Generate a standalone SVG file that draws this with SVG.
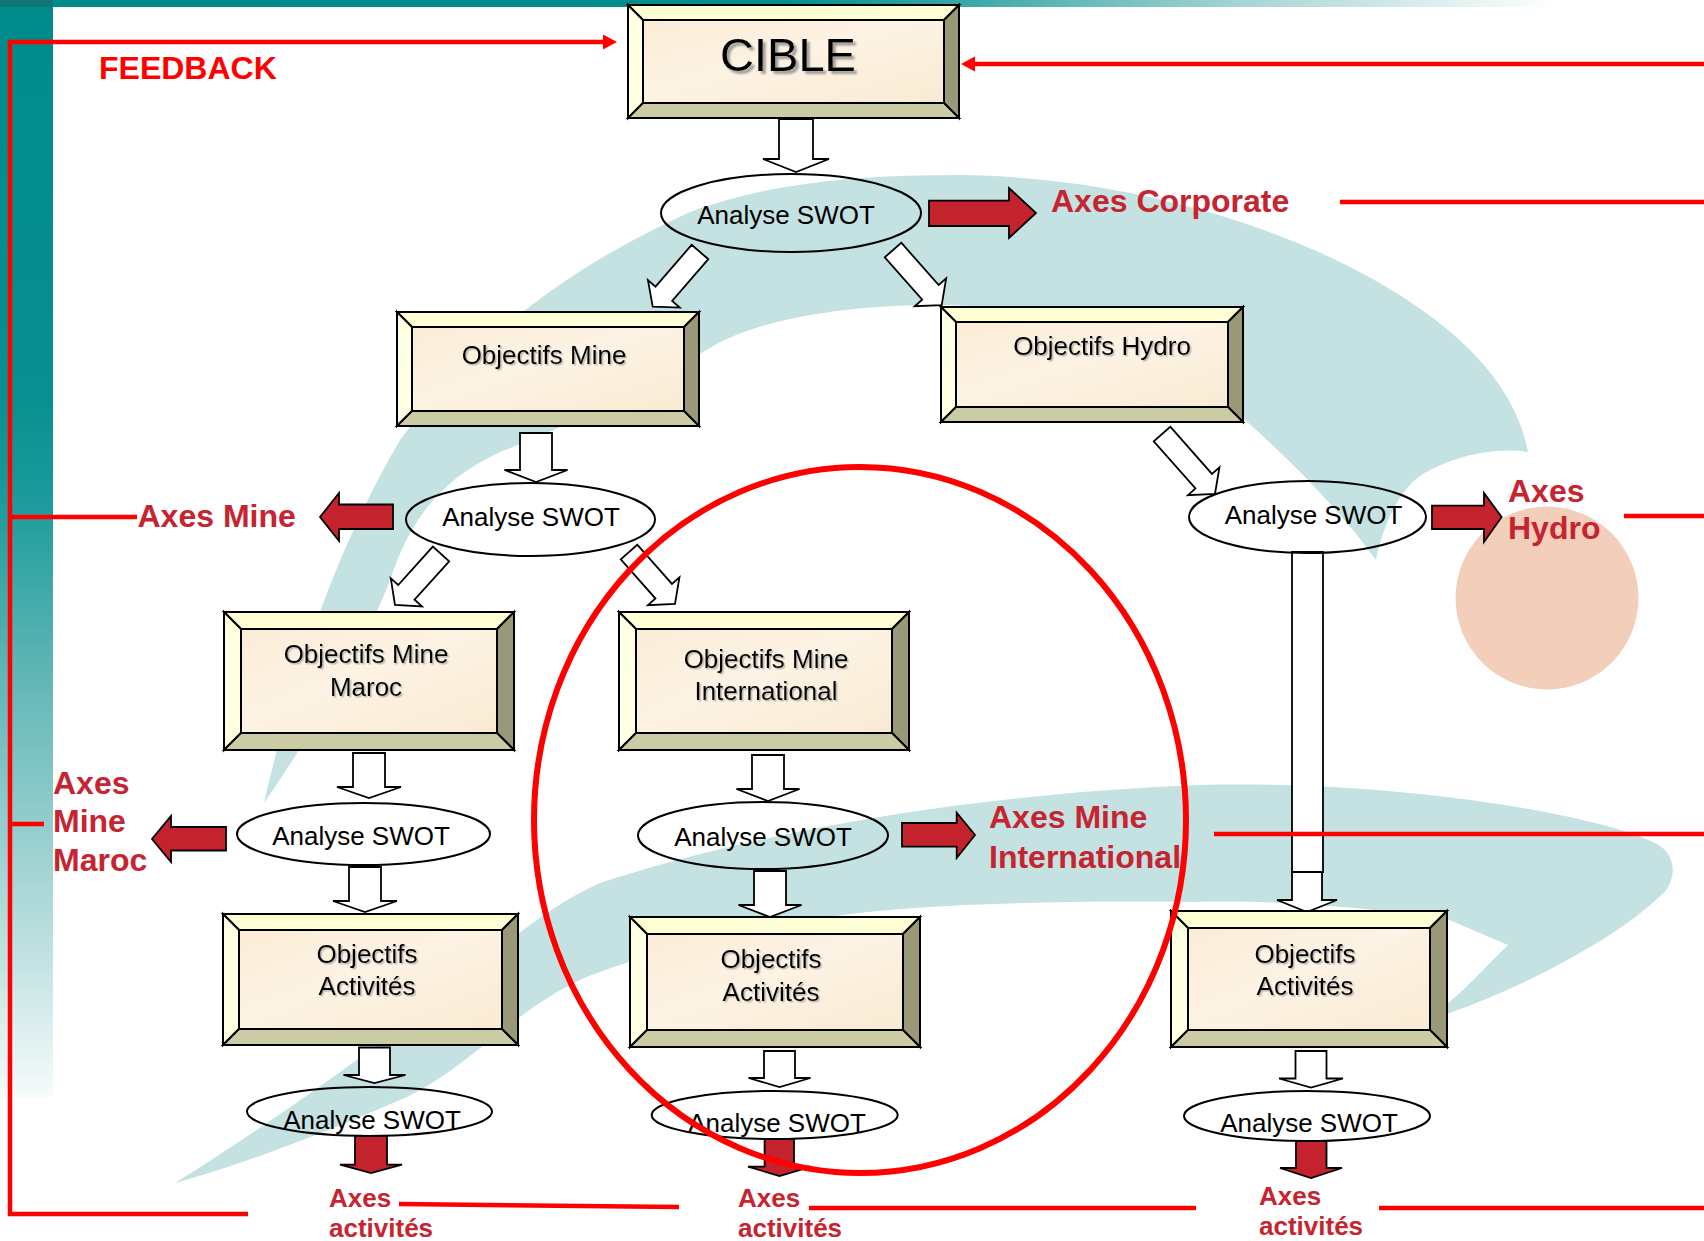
<svg xmlns="http://www.w3.org/2000/svg" width="1704" height="1241" viewBox="0 0 1704 1241">
<defs>
<linearGradient id="gTop" x1="0" y1="0" x2="1556" y2="0" gradientUnits="userSpaceOnUse">
<stop offset="0" stop-color="#008b8b"/><stop offset="0.5" stop-color="#018e8e"/><stop offset="0.62" stop-color="#3aa7a7"/><stop offset="0.8" stop-color="#a6d5d5"/><stop offset="1" stop-color="#ffffff"/>
</linearGradient>
<linearGradient id="gLeft" x1="0" y1="0" x2="0" y2="1097" gradientUnits="userSpaceOnUse">
<stop offset="0" stop-color="#008b8b"/><stop offset="0.36" stop-color="#088f8f"/><stop offset="0.45" stop-color="#1a9a9a"/><stop offset="0.6" stop-color="#5bb3b3"/><stop offset="0.74" stop-color="#8fcbcb"/><stop offset="0.88" stop-color="#c5e3e3"/><stop offset="1" stop-color="#f7fbfb"/>
</linearGradient>
<linearGradient id="gFace" x1="0" y1="0" x2="1" y2="1">
<stop offset="0" stop-color="#fbecd6"/><stop offset="0.45" stop-color="#fdf3e4"/><stop offset="1" stop-color="#f9ead2"/>
</linearGradient>
<filter id="sh" x="-10%" y="-20%" width="130%" height="150%">
<feDropShadow dx="1.5" dy="1.5" stdDeviation="0.6" flood-color="#888" flood-opacity="0.55"/>
</filter>
<filter id="shBig" x="-10%" y="-20%" width="130%" height="150%">
<feDropShadow dx="3" dy="3" stdDeviation="0.8" flood-color="#777" flood-opacity="0.7"/>
</filter>
<marker id="redHead" markerUnits="userSpaceOnUse" markerWidth="16" markerHeight="18" viewBox="0 -9 16 18" refX="0" refY="0" orient="auto">
<path d="M0,-7.5 L14,0 L0,7.5 Z" fill="#ff0000"/>
</marker>
<style>
.bt{fill:#ffffd6;stroke:#000;stroke-width:2;stroke-linejoin:miter}
.bl{fill:#ffffe2;stroke:#000;stroke-width:2}
.br{fill:#999977;stroke:#000;stroke-width:2}
.bb{fill:#cccca4;stroke:#000;stroke-width:2}
.face{fill:url(#gFace);stroke:#000;stroke-width:2}
.ntxt{font-family:"Liberation Sans",Arial,sans-serif;font-size:26px;fill:#000;text-anchor:middle}
.stxt{font-family:"Liberation Sans",Arial,sans-serif;font-size:26px;fill:#000;text-anchor:middle}
.ell{fill:none;stroke:#000;stroke-width:2}
.wa{fill:#fff;stroke:#000;stroke-width:1.8;stroke-linejoin:miter}
.ra{fill:#c4232e;stroke:#000;stroke-width:1.8;stroke-linejoin:miter}
.rl{fill:none;stroke:#ff0000;stroke-width:4.5}
.lab{font-family:"Liberation Sans",Arial,sans-serif;font-weight:bold;font-size:32px;fill:#c62430}
.labs{font-family:"Liberation Sans",Arial,sans-serif;font-weight:bold;font-size:26px;fill:#c62430}
.swoosh{fill:#c4e2e2}
</style>
</defs>

<g id="background">
<rect x="0" y="0" width="1704" height="1241" fill="#ffffff"/>
<rect x="0" y="0" width="1556" height="7" fill="url(#gTop)"/>
<rect x="0" y="0" width="53" height="1097" fill="url(#gLeft)"/>
<rect x="0" y="0" width="53" height="7" fill="#0f7676"/>
<path class="swoosh" d="M264,803 C290,690 330,560 400,440 C480,330 580,262 690,212 C770,182 860,175 960,175 C1180,178 1380,260 1470,350 C1505,385 1522,420 1528,452 C1490,446 1440,460 1415,480 C1395,498 1382,530 1376,560 C1340,510 1290,460 1245,420 C1150,340 1050,305 940,305 C860,305 770,315 715,345 C640,390 560,430 500,452 C440,480 410,520 390,580 C360,660 300,750 264,803 Z"/>
<path class="swoosh" d="M175,1183 C260,1130 360,1060 450,990 C500,950 540,910 600,883 C750,835 950,795 1200,785 C1400,780 1600,815 1655,843 C1680,855 1676,885 1659,897 C1620,935 1530,985 1447,1014 L1400,1030 L1447,1004 C1470,985 1490,962 1508,945 L1447,919 C1350,905 1260,900 1196,902 C1050,900 900,905 830,917 C730,932 660,950 600,972 C520,1000 470,1070 400,1100 C320,1135 240,1165 175,1183 Z"/>
<circle cx="1547" cy="598" r="91.5" fill="#f2cebb"/>
</g>

<g id="connectors">
<path class="wa" d="M779,119 H813 V159 H829 L796,172 L763,159 H779 Z"/>
<path class="wa" transform="translate(700,252) rotate(130.85)" d="M0,-11 H55.3 V-21 L72.3,0 L55.3,21 V11 H0 Z"/>
<path class="wa" transform="translate(893,250) rotate(48.5)" d="M0,-11 H56.5 V-21 L73.5,0 L56.5,21 V11 H0 Z"/>
<path class="wa" d="M520,433 H552 V470 H567.5 L536,482 L504.5,470 H520 Z"/>
<path class="wa" transform="translate(1162,434) rotate(48.54)" d="M0,-11 H63 V-21 L80,0 L63,21 V11 H0 Z"/>
<path class="wa" transform="translate(441,554) rotate(132.05)" d="M0,-11 H51.7 V-21 L68.7,0 L51.7,21 V11 H0 Z"/>
<path class="wa" transform="translate(629,552) rotate(48.5)" d="M0,-11 H52.4 V-21 L69.4,0 L52.4,21 V11 H0 Z"/>
<path class="wa" d="M353,753 H385 V787 H401 L369,798 L337,787 H353 Z"/>
<path class="wa" d="M349,867 H381 V901 H397 L365,912 L333,901 H349 Z"/>
<path class="wa" d="M359,1047.5 H390 V1075 H405.5 L374.5,1083 L343.5,1075 H359 Z"/>
<path class="wa" d="M752,755 H784 V789 H799.5 L768,801 L736.5,789 H752 Z"/>
<path class="wa" d="M754,871 H786 V905 H801.5 L770,917 L738.5,905 H754 Z"/>
<path class="wa" d="M764,1051 H795 V1078 H810.5 L779.5,1087 L748.5,1078 H764 Z"/>
<path class="wa" d="M1292,552 H1323 V872 H1292 Z"/>
<path class="wa" d="M1292,872 H1322 V900 H1337 L1307,912 L1277,900 H1292 Z"/>
<path class="wa" d="M1295.5,1051 H1326.5 V1078.5 H1343 L1311,1087.5 L1279,1078.5 H1295.5 Z"/>

<path class="ra" d="M929,200.7 H1009 V188 L1036,213 L1009,238 V226 H929 Z"/>
<path class="ra" d="M393,504.5 H339 V493 L320,517 L339,541 V529 H393 Z"/>
<path class="ra" d="M1432,505.7 H1484 V493 L1501.6,517 L1484,542 V529 H1432 Z"/>
<path class="ra" d="M226,827 H171 V816 L152,839 L171,862 V850.5 H226 Z"/>
<path class="ra" d="M902,823 H956.7 V812.7 L975,835 L956.7,858 V846.7 H902 Z"/>
<path class="ra" d="M355,1136 H387 V1164.6 H402 L371,1173 L340,1164.6 H355 Z"/>
<path class="ra" d="M764.6,1139 H794 V1166.7 H811 L779.5,1176 L748,1166.7 H764.6 Z"/>
<path class="ra" d="M1296,1141 H1326.5 V1168 H1342 L1311,1178 L1280,1168 H1296 Z"/>

<path class="rl" d="M248,1214 H10 V42 H603" marker-end="url(#redHead)"/>
<path class="rl" d="M1704,64 H975" marker-end="url(#redHead)"/>
<path class="rl" d="M10,517 H137"/>
<path class="rl" d="M10,824 H44"/>
<path class="rl" d="M1340,202 H1704"/>
<path class="rl" d="M1624,516 H1704"/>
<path class="rl" d="M1214,834 H1704"/>
<path class="rl" d="M399,1204 L679,1207"/>
<path class="rl" d="M809,1208 H1196"/>
<path class="rl" d="M1379,1208 H1704"/>
</g>

<g id="node-cible">
<polygon class="bt" points="628,5 959,5 944,20 643,20"/>
<polygon class="bl" points="628,5 643,20 643,103 628,118"/>
<polygon class="br" points="959,5 959,118 944,103 944,20"/>
<polygon class="bb" points="628,118 643,103 944,103 959,118"/>
<rect class="face" x="643" y="20" width="301" height="83"/>
<text x="788" y="71" font-family="'Liberation Sans',Arial,sans-serif" font-size="47" text-anchor="middle" fill="#000" filter="url(#shBig)">CIBLE</text>
</g>

<g id="node-swot-corporate">
<ellipse class="ell" cx="791" cy="213" rx="130" ry="39"/>
<text class="stxt" x="786" y="224">Analyse SWOT</text>
</g>

<g id="node-obj-mine">
<polygon class="bt" points="397,312 699,312 684,327 412,327"/>
<polygon class="bl" points="397,312 412,327 412,411 397,426"/>
<polygon class="br" points="699,312 699,426 684,411 684,327"/>
<polygon class="bb" points="397,426 412,411 684,411 699,426"/>
<rect class="face" x="412" y="327" width="272" height="84"/>
<text class="ntxt" x="544" y="364" filter="url(#sh)">Objectifs Mine</text>
</g>

<g id="node-obj-hydro">
<polygon class="bt" points="941,307 1243,307 1228,322 956,322"/>
<polygon class="bl" points="941,307 956,322 956,407 941,422"/>
<polygon class="br" points="1243,307 1243,422 1228,407 1228,322"/>
<polygon class="bb" points="941,422 956,407 1228,407 1243,422"/>
<rect class="face" x="956" y="322" width="272" height="85"/>
<text class="ntxt" x="1102" y="355" filter="url(#sh)">Objectifs Hydro</text>
</g>

<g id="node-swot-mine">
<ellipse class="ell" cx="530.5" cy="519.5" rx="124.5" ry="36.5"/>
<text class="stxt" x="531" y="526">Analyse SWOT</text>
</g>

<g id="node-swot-hydro">
<ellipse class="ell" cx="1307.5" cy="517" rx="118.5" ry="36"/>
<text class="stxt" x="1313.5" y="524">Analyse SWOT</text>
</g>

<g id="node-obj-mine-maroc">
<polygon class="bt" points="224,612 514,612 497,629 241,629"/>
<polygon class="bl" points="224,612 241,629 241,733 224,750"/>
<polygon class="br" points="514,612 514,750 497,733 497,629"/>
<polygon class="bb" points="224,750 241,733 497,733 514,750"/>
<rect class="face" x="241" y="629" width="256" height="104"/>
<text class="ntxt" x="366" y="663" filter="url(#sh)">Objectifs Mine</text>
<text class="ntxt" x="366" y="696" filter="url(#sh)">Maroc</text>
</g>

<g id="node-obj-mine-intl">
<polygon class="bt" points="619,612 909,612 892,629 636,629"/>
<polygon class="bl" points="619,612 636,629 636,733 619,750"/>
<polygon class="br" points="909,612 909,750 892,733 892,629"/>
<polygon class="bb" points="619,750 636,733 892,733 909,750"/>
<rect class="face" x="636" y="629" width="256" height="104"/>
<text class="ntxt" x="766" y="668" filter="url(#sh)">Objectifs Mine</text>
<text class="ntxt" x="766" y="700" filter="url(#sh)">International</text>
</g>

<g id="node-swot-maroc">
<ellipse class="ell" cx="363.5" cy="834" rx="126.5" ry="31"/>
<text class="stxt" x="361" y="845">Analyse SWOT</text>
</g>

<g id="node-swot-intl">
<ellipse class="ell" cx="763" cy="835.5" rx="125" ry="33.5"/>
<text class="stxt" x="763" y="846">Analyse SWOT</text>
</g>

<g id="node-obj-act-maroc">
<polygon class="bt" points="223,914 518,914 502,930 239,930"/>
<polygon class="bl" points="223,914 239,930 239,1029 223,1045"/>
<polygon class="br" points="518,914 518,1045 502,1029 502,930"/>
<polygon class="bb" points="223,1045 239,1029 502,1029 518,1045"/>
<rect class="face" x="239" y="930" width="263" height="99"/>
<text class="ntxt" x="367" y="962.5" filter="url(#sh)">Objectifs</text>
<text class="ntxt" x="367" y="994.5" filter="url(#sh)">Activités</text>
</g>

<g id="node-obj-act-intl">
<polygon class="bt" points="630,917 920,917 903,934 647,934"/>
<polygon class="bl" points="630,917 647,934 647,1030 630,1047"/>
<polygon class="br" points="920,917 920,1047 903,1030 903,934"/>
<polygon class="bb" points="630,1047 647,1030 903,1030 920,1047"/>
<rect class="face" x="647" y="934" width="256" height="96"/>
<text class="ntxt" x="771" y="968" filter="url(#sh)">Objectifs</text>
<text class="ntxt" x="771" y="1000.5" filter="url(#sh)">Activités</text>
</g>

<g id="node-obj-act-hydro">
<polygon class="bt" points="1171,911 1447,911 1430,928 1188,928"/>
<polygon class="bl" points="1171,911 1188,928 1188,1030 1171,1047"/>
<polygon class="br" points="1447,911 1447,1047 1430,1030 1430,928"/>
<polygon class="bb" points="1171,1047 1188,1030 1430,1030 1447,1047"/>
<rect class="face" x="1188" y="928" width="242" height="102"/>
<text class="ntxt" x="1305" y="963" filter="url(#sh)">Objectifs</text>
<text class="ntxt" x="1305" y="994.5" filter="url(#sh)">Activités</text>
</g>

<g id="node-swot-act-maroc">
<ellipse class="ell" cx="369.5" cy="1111.5" rx="122.5" ry="24.5"/>
<text class="stxt" x="372" y="1129">Analyse SWOT</text>
</g>

<g id="node-swot-act-intl">
<ellipse class="ell" cx="774.7" cy="1115" rx="123" ry="24"/>
<text class="stxt" x="777" y="1131.5">Analyse SWOT</text>
</g>

<g id="node-swot-act-hydro">
<ellipse class="ell" cx="1307" cy="1116" rx="123" ry="25"/>
<text class="stxt" x="1309" y="1131.5">Analyse SWOT</text>
</g>

<g id="labels">
<text x="99" y="79" font-family="'Liberation Sans',Arial,sans-serif" font-weight="bold" font-size="32" fill="#ff0000">FEEDBACK</text>
<text class="lab" x="1051" y="212">Axes Corporate</text>
<text class="lab" x="137.5" y="527">Axes Mine</text>
<text class="lab" x="1508" y="502">Axes</text>
<text class="lab" x="1508" y="539">Hydro</text>
<text class="lab" x="53" y="794">Axes</text>
<text class="lab" x="53" y="832">Mine</text>
<text class="lab" x="53" y="871">Maroc</text>
<text class="lab" x="989" y="828">Axes Mine</text>
<text class="lab" x="989" y="868">International</text>
<text class="labs" x="329" y="1207">Axes</text>
<text class="labs" x="329" y="1237">activités</text>
<text class="labs" x="738" y="1207">Axes</text>
<text class="labs" x="738" y="1237">activités</text>
<text class="labs" x="1259" y="1204.5">Axes</text>
<text class="labs" x="1259" y="1235">activités</text>
</g>

<g id="focus-circle">
<ellipse cx="860" cy="820" rx="326" ry="353" fill="none" stroke="#ff0000" stroke-width="6"/>
</g>
</svg>
